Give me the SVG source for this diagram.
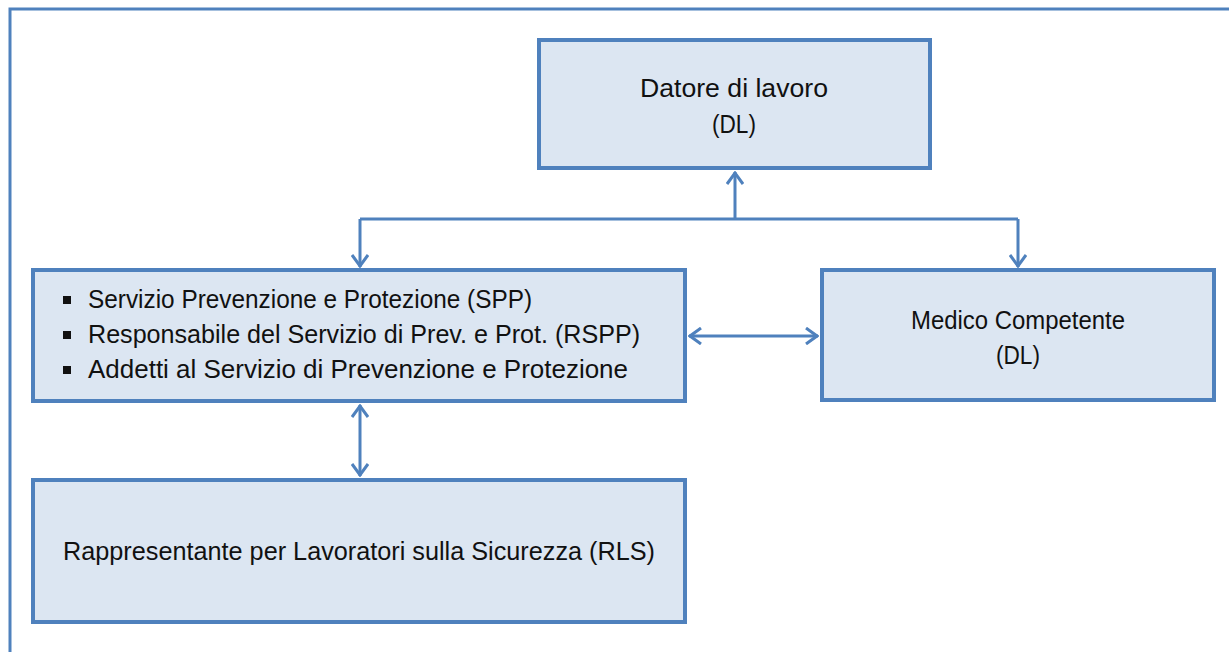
<svg xmlns="http://www.w3.org/2000/svg" width="1229" height="652" viewBox="0 0 1229 652">
<style>
.box{fill:#DCE6F2;stroke:#4F81BD;stroke-width:4}
.t{font-family:"Liberation Sans",Arial,sans-serif;font-size:26px;fill:#111}
.c{stroke:#4F81BD;stroke-width:3;fill:none}
</style>
<defs>
<marker id="arr" viewBox="0 0 14 18" refX="13" refY="9" markerWidth="14" markerHeight="18" markerUnits="userSpaceOnUse" orient="auto-start-reverse">
<polyline points="1,1 12,9 1,17" fill="none" stroke="#4F81BD" stroke-width="3"/>
</marker>
</defs>
<rect width="1229" height="652" fill="#fff"/>
<g id="frame">
<polyline points="10,652 10,9 1229,9" fill="none" stroke="#4F81BD" stroke-width="3"/>
</g>
<g id="connectors">
<line class="c" x1="735" y1="219" x2="735" y2="172" marker-end="url(#arr)"/>
<line class="c" x1="360" y1="219" x2="1018" y2="219"/>
<line class="c" x1="360" y1="219" x2="360" y2="267" marker-end="url(#arr)"/>
<line class="c" x1="1018" y1="219" x2="1018" y2="267" marker-end="url(#arr)"/>
<line class="c" x1="689" y1="336" x2="818" y2="336" marker-start="url(#arr)" marker-end="url(#arr)"/>
<line class="c" x1="360" y1="405" x2="360" y2="476" marker-start="url(#arr)" marker-end="url(#arr)"/>
</g>
<g id="dl">
<rect class="box" x="539" y="40" width="391" height="128"/>
<text class="t" x="734" y="97" text-anchor="middle" textLength="188" lengthAdjust="spacingAndGlyphs">Datore di lavoro</text>
<text class="t" x="734" y="133" text-anchor="middle" textLength="44" lengthAdjust="spacingAndGlyphs">(DL)</text>
</g>
<g id="spp">
<rect class="box" x="33" y="270" width="652" height="131"/>
<rect x="63" y="296" width="8" height="8" fill="#111"/>
<rect x="63" y="331" width="8" height="8" fill="#111"/>
<rect x="63" y="366" width="8" height="8" fill="#111"/>
<text class="t" x="88" y="308" textLength="444" lengthAdjust="spacingAndGlyphs">Servizio Prevenzione e Protezione (SPP)</text>
<text class="t" x="88" y="343" textLength="552" lengthAdjust="spacingAndGlyphs">Responsabile del Servizio di Prev. e Prot. (RSPP)</text>
<text class="t" x="88" y="378" textLength="540" lengthAdjust="spacingAndGlyphs">Addetti al Servizio di Prevenzione e Protezione</text>
</g>
<g id="medico">
<rect class="box" x="822" y="270" width="392" height="130"/>
<text class="t" x="1018" y="329" text-anchor="middle" textLength="214" lengthAdjust="spacingAndGlyphs">Medico Competente</text>
<text class="t" x="1018" y="364" text-anchor="middle" textLength="44" lengthAdjust="spacingAndGlyphs">(DL)</text>
</g>
<g id="rls">
<rect class="box" x="33" y="480" width="652" height="142"/>
<text class="t" x="63" y="560" textLength="592" lengthAdjust="spacingAndGlyphs">Rappresentante per Lavoratori sulla Sicurezza (RLS)</text>
</g>
</svg>
